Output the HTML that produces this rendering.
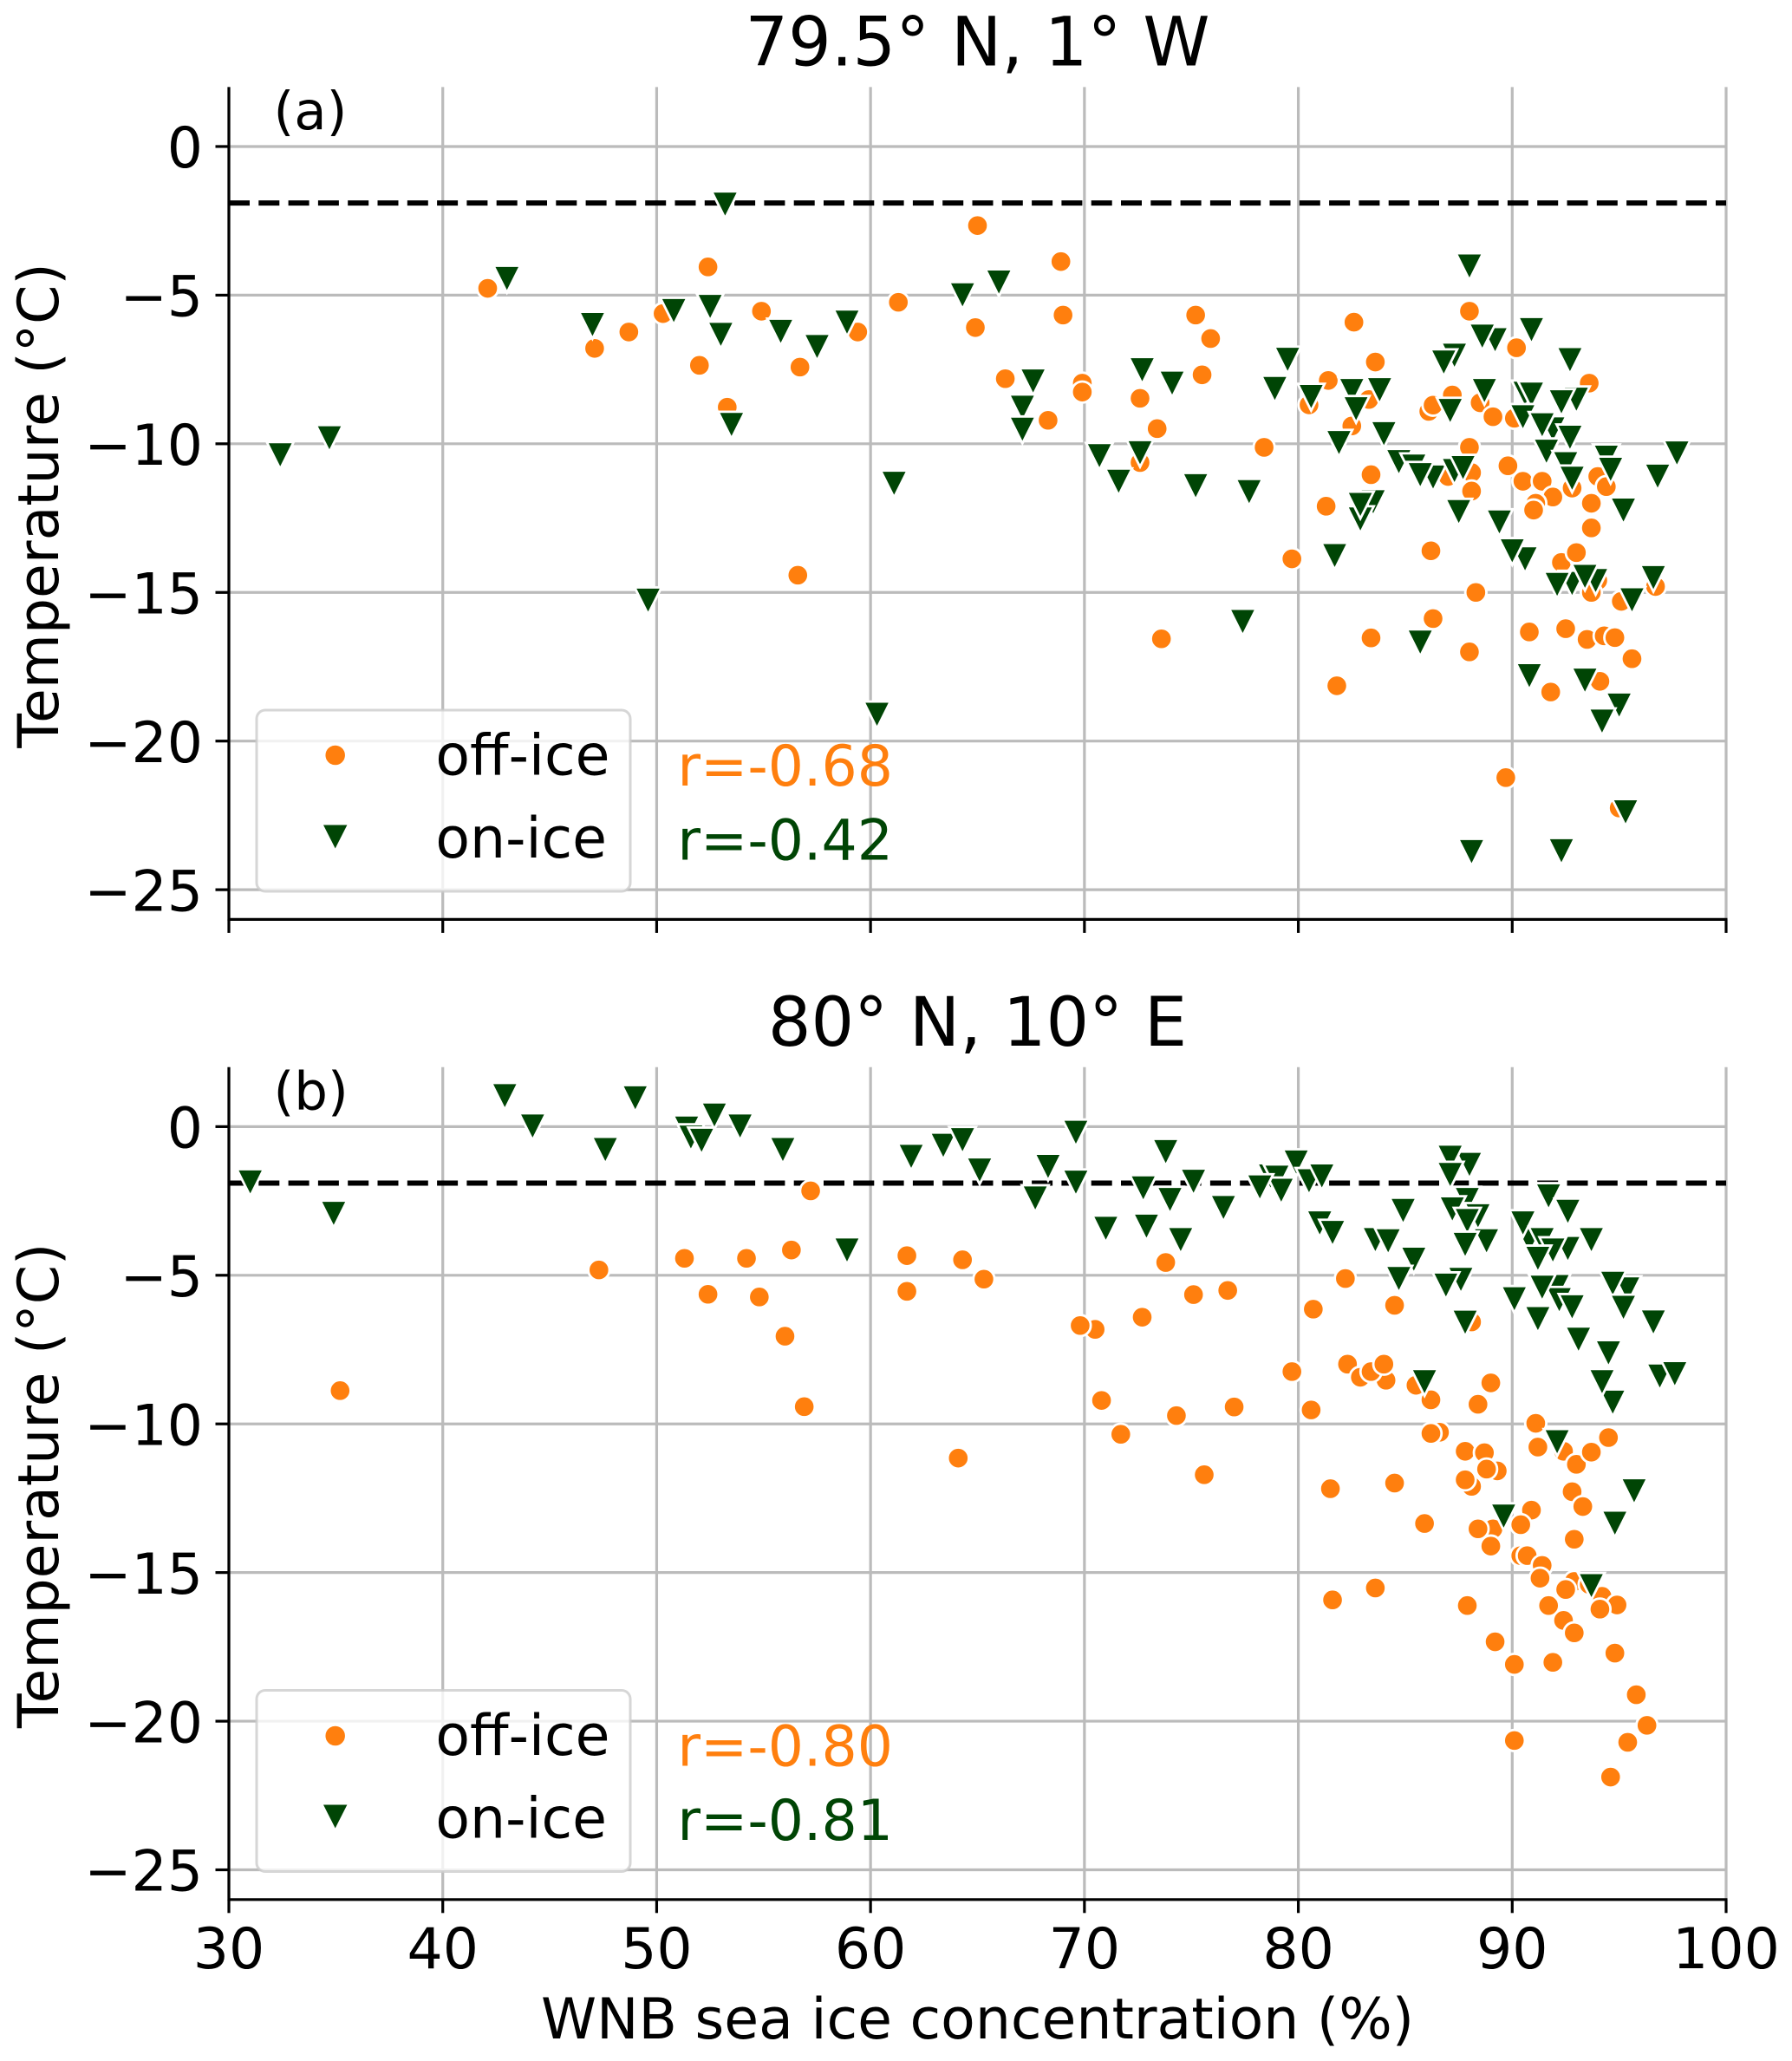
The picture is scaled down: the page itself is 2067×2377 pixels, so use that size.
<!DOCTYPE html>
<html>
<head>
<meta charset="utf-8">
<title>Temperature vs WNB sea ice concentration</title>
<style>
html,body{margin:0;padding:0;background:#fff;}
svg{display:block;}
text{font-family:"DejaVu Sans","Liberation Sans",sans-serif;fill:#000;}
</style>
</head>
<body>
<svg id="chart" xmlns="http://www.w3.org/2000/svg" width="2067" height="2377" viewBox="0 0 2067 2377">
  <rect x="0" y="0" width="2067" height="2377" fill="#fff"/>
  <g id="panel-a"></g>
  <g id="panel-b"></g>

  <text x="1127.5" y="75.5" text-anchor="middle" font-size="78">79.5° N, 1° W</text>
  <text x="1127.5" y="1205.9" text-anchor="middle" font-size="78">80° N, 10° E</text>
  <text x="315.5" y="149" font-size="61">(a)</text>
  <text x="315.5" y="1279.4" font-size="61">(b)</text>
  <text transform="translate(67,583) rotate(-90)" text-anchor="middle" font-size="64.8">Temperature (°C)</text>
  <text transform="translate(67,1713.4) rotate(-90)" text-anchor="middle" font-size="64.8">Temperature (°C)</text>
  <text x="1127.5" y="2351" text-anchor="middle" font-size="64.8">WNB sea ice concentration (%)</text>

  <g>
    <rect x="296" y="819" width="431" height="209" rx="10" ry="10" fill="#fff" fill-opacity="0.8" stroke="#ccc" stroke-opacity="0.8" stroke-width="3"/>
    <circle cx="386.7" cy="871" r="12" fill="#ff7f0e" stroke="#fff" stroke-width="1.5"/>
    <path d="M373 951.5 L400.4 951.5 L386.7 978.5 Z" fill="#004505"/>
    <text x="502.4" y="893.3" font-size="64.8">off-ice</text>
    <text x="502.4" y="989" font-size="64.8">on-ice</text>
  </g>
  <g>
    <rect x="296" y="1949.5" width="431" height="209" rx="10" ry="10" fill="#fff" fill-opacity="0.8" stroke="#ccc" stroke-opacity="0.8" stroke-width="3"/>
    <circle cx="386.7" cy="2002" r="12" fill="#ff7f0e" stroke="#fff" stroke-width="1.5"/>
    <path d="M373 2081.5 L400.4 2081.5 L386.7 2108.5 Z" fill="#004505"/>
    <text x="502.4" y="2023.8" font-size="64.8">off-ice</text>
    <text x="502.4" y="2119.5" font-size="64.8">on-ice</text>
  </g>

  <text x="781.4" y="906" font-size="64.8" style="fill:#ff7f0e">r=-0.68</text>
  <text x="781.4" y="991.7" font-size="64.8" style="fill:#004505">r=-0.42</text>
  <text x="781.4" y="2036.4" font-size="64.8" style="fill:#ff7f0e">r=-0.80</text>
  <text x="781.4" y="2122.1" font-size="64.8" style="fill:#004505">r=-0.81</text>
</svg>
<script>
const xTickValues = [30, 40, 50, 60, 70, 80, 90, 100];
const yTickValues = [0, -5, -10, -15, -20, -25];
const yTickLabels = ['0', '\u22125', '\u221210', '\u221215', '\u221220', '\u221225'];
const freezingPoint = -1.9;

const offIceAX = [42.1,47.1,48.7,50.3,52.4,52.0,53.3,54.9,56.7,56.6,59.4,61.3,65.0,64.9,66.3,68.9,69.0,75.2,75.9,69.9,69.9,72.6,73.4,75.5,68.3,72.6,78.4,83.4,82.6,83.6,81.4,80.5,83.3,82.5,88.0,90.2,93.6,87.2,86.1,86.3,88.5,89.1,90.1,88.0,89.8,90.5,91.4,88.1,87.0,88.1,91.9,91.1,91.0,92.8,94.0,94.4,93.7,93.7,81.3,79.7,86.2,92.3,93.0,94.0,93.7,96.7,88.3,95.1,86.3,73.6,83.4,88.0,90.8,92.5,93.5,94.3,94.8,95.6,94.1,91.8,81.8,89.7,95.0];
const offIceAY = [-4.77,-6.79,-6.24,-5.62,-4.05,-7.36,-8.77,-5.54,-7.42,-14.42,-6.24,-5.24,-2.66,-6.09,-7.81,-3.87,-5.67,-5.67,-6.46,-7.96,-8.26,-8.47,-9.49,-7.68,-9.21,-10.63,-10.12,-11.04,-5.91,-7.25,-7.87,-8.69,-8.51,-9.4,-5.54,-6.77,-7.96,-8.36,-8.91,-8.7,-8.62,-9.09,-9.14,-10.12,-10.74,-11.26,-11.26,-10.97,-11.1,-11.59,-11.79,-12.0,-12.23,-11.49,-11.1,-11.44,-12.0,-12.83,-12.1,-13.87,-13.6,-13.99,-13.66,-14.6,-15.0,-14.8,-15.0,-15.3,-15.88,-16.56,-16.53,-17.0,-16.33,-16.22,-16.58,-16.46,-16.52,-17.23,-17.99,-18.35,-18.14,-21.23,-22.25];

const onIceAX = [32.4,34.7,43.0,47.0,49.6,50.8,52.5,53.0,53.2,53.5,55.8,57.5,58.9,61.1,60.3,64.3,66.0,67.6,67.1,67.1,88.0,90.9,89.2,88.6,92.7,87.3,86.8,72.7,74.1,79.5,78.9,80.6,82.5,83.8,82.7,88.7,87.1,84.0,81.9,90.6,90.9,93.0,92.3,90.5,91.9,91.4,92.7,91.6,94.4,92.5,94.6,92.8,97.7,96.8,70.7,72.6,71.6,75.2,77.7,84.7,85.4,86.3,85.7,87.3,87.7,87.5,89.4,95.2,83.5,82.9,82.9,81.7,90.6,90.0,92.8,92.1,93.9,93.4,96.6,95.6,77.4,85.7,90.8,93.4,95.0,94.2,95.3,88.1,92.3];
const onIceAY = [-10.37,-9.8,-4.44,-5.99,-15.26,-5.52,-5.38,-6.32,-1.94,-9.35,-6.22,-6.73,-5.91,-11.33,-19.1,-4.99,-4.56,-7.89,-8.77,-9.51,-4.02,-6.16,-6.5,-6.38,-7.17,-7.02,-7.25,-7.51,-7.96,-7.16,-8.14,-8.41,-8.21,-8.18,-8.82,-8.21,-8.88,-9.66,-9.96,-8.3,-8.33,-8.5,-8.59,-9.09,-9.5,-9.36,-9.78,-10.25,-10.45,-10.67,-10.86,-11.16,-10.31,-11.09,-10.4,-10.3,-11.26,-11.41,-11.61,-10.6,-10.75,-11.12,-11.04,-10.9,-10.8,-12.28,-12.63,-12.23,-11.95,-12.53,-12.04,-13.76,-13.87,-13.6,-14.7,-14.73,-14.6,-14.46,-14.5,-15.25,-15.98,-16.67,-17.8,-17.95,-18.79,-19.33,-22.38,-23.72,-23.69];

const offIceBX = [35.2,47.3,51.3,52.4,54.2,54.8,56.3,56.0,56.9,57.2,61.7,61.7,64.3,64.1,65.3,70.5,69.8,72.7,73.8,75.1,76.7,70.8,71.7,74.3,77.0,75.6,79.7,80.6,80.7,82.2,84.5,81.5,84.5,85.9,81.6,83.6,82.3,82.9,84.1,83.4,84.0,85.5,86.2,86.6,86.2,88.1,89.0,88.4,87.8,88.7,89.3,88.8,88.1,87.8,91.1,91.2,92.4,93.0,93.7,94.5,92.8,93.3,92.9,90.9,89.1,88.4,90.4,89.0,90.4,90.7,91.4,91.3,92.9,92.5,93.6,94.2,94.9,94.1,91.7,92.4,92.9,87.9,89.2,90.1,91.9,94.8,95.8,96.3,95.4,90.1,94.6];
const offIceBY = [-8.88,-4.82,-4.43,-5.64,-4.43,-5.73,-4.15,-7.05,-9.42,-2.16,-4.34,-5.54,-4.48,-11.15,-5.13,-6.82,-6.69,-6.41,-4.57,-5.65,-5.51,-9.21,-10.35,-9.72,-9.43,-11.71,-8.24,-9.53,-6.14,-5.11,-6.01,-12.18,-11.99,-13.35,-15.92,-15.52,-7.99,-8.43,-8.53,-8.24,-7.99,-8.7,-9.19,-10.28,-10.32,-6.57,-8.62,-9.34,-10.92,-10.97,-11.58,-11.52,-12.1,-11.88,-9.98,-10.78,-10.92,-11.36,-10.95,-10.46,-12.28,-12.78,-13.88,-12.9,-13.53,-13.53,-13.39,-14.11,-14.43,-14.43,-14.76,-15.19,-15.3,-15.57,-15.4,-15.8,-16.09,-16.23,-16.11,-16.61,-17.03,-16.11,-17.33,-18.09,-18.02,-17.71,-19.11,-20.14,-20.71,-20.65,-21.88];

const onIceBX = [31.0,34.9,42.9,44.2,47.6,49.0,51.4,51.6,52.1,52.7,53.9,55.9,58.9,61.9,63.4,64.3,65.1,67.7,68.3,69.6,69.6,73.8,72.75,74.0,75.1,76.5,71.0,72.9,74.5,78.7,79.0,79.2,78.2,79.9,80.5,81.1,81.0,81.6,84.9,83.6,84.2,85.4,84.7,87.6,86.9,85.9,87.8,88.0,87.1,87.1,87.9,88.4,87.2,87.9,88.8,87.8,91.7,92.6,90.8,90.5,91.4,92.6,91.9,91.2,93.7,92.1,92.2,92.8,91.4,90.1,91.2,93.1,95.4,94.7,95.2,96.6,94.5,94.7,94.2,96.9,97.6,92.1,95.7,94.8,89.6,93.7];
const onIceBY = [-1.86,-2.92,1.04,0.02,-0.77,0.97,-0.05,-0.35,-0.46,0.39,0.02,-0.77,-4.15,-1.0,-0.63,-0.44,-1.46,-2.4,-1.34,-0.19,-1.87,-0.84,-2.06,-2.45,-1.84,-2.72,-3.42,-3.35,-3.8,-1.66,-1.7,-2.14,-2.03,-1.19,-1.82,-1.66,-3.24,-3.56,-2.82,-3.8,-3.84,-4.46,-5.11,-5.14,-5.33,-8.58,-6.58,-1.27,-1.03,-1.61,-2.45,-3.0,-2.77,-3.16,-3.84,-3.96,-2.33,-2.85,-3.8,-3.24,-3.8,-4.1,-4.15,-4.43,-3.8,-5.38,-5.82,-6.06,-5.4,-5.79,-6.46,-7.15,-5.46,-5.27,-6.08,-6.57,-7.61,-9.27,-8.58,-8.39,-8.31,-10.6,-12.25,-13.34,-13.1,-15.44];

const NS = 'http://www.w3.org/2000/svg';
const X_MIN = 30, X_MAX = 100, Y_MIN = -26, Y_MAX = 2;
const AXIS_LEFT = 264, AXIS_RIGHT = 1991, PANEL_HEIGHT = 960;
const MARKER_HALF = 15.5;

function xScale(v) {
  return AXIS_LEFT + (v - X_MIN) / (X_MAX - X_MIN) * (AXIS_RIGHT - AXIS_LEFT);
}
function yScaleFor(top) {
  return function (v) {
    return top + (Y_MAX - v) / (Y_MAX - Y_MIN) * PANEL_HEIGHT;
  };
}
function make(tag, attrs, parent) {
  const el = document.createElementNS(NS, tag);
  for (const k in attrs) el.setAttribute(k, attrs[k]);
  parent.appendChild(el);
  return el;
}

function drawPanel(panelId, top, showXLabels, offX, offY, onX, onY) {
  const root = document.getElementById(panelId);
  const yScale = yScaleFor(top);
  const bottom = top + PANEL_HEIGHT;

  xTickValues.forEach(function (v, i) {
    const grid = make('line', {x1: xScale(v), x2: xScale(v), y1: top, y2: bottom, stroke: '#bbb', 'stroke-width': 3.2}, root);
    
    
    const tick = make('line', {x1: xScale(v), x2: xScale(v), y1: bottom, y2: bottom + 15.5, stroke: '#000', 'stroke-width': 3.2}, root);
    
    
    if (showXLabels) {
      const label = make('text', {x: xScale(v), y: bottom + 79, 'text-anchor': 'middle', 'font-size': 64.8}, root);
      label.textContent = String(xTickValues[i]);
      
      
    }
  });

  yTickValues.forEach(function (v, i) {
    const grid = make('line', {x1: AXIS_LEFT, x2: AXIS_RIGHT, y1: yScale(v), y2: yScale(v), stroke: '#bbb', 'stroke-width': 3.2}, root);
    
    
    const tick = make('line', {x1: AXIS_LEFT - 15.5, x2: AXIS_LEFT, y1: yScale(v), y2: yScale(v), stroke: '#000', 'stroke-width': 3.2}, root);
    
    
    const label = make('text', {x: AXIS_LEFT - 30, y: yScale(v) + 24.2, 'text-anchor': 'end', 'font-size': 64.8}, root);
    label.textContent = yTickLabels[i];
    
    
  });

  const freezing = make('line', {x1: AXIS_LEFT, x2: AXIS_RIGHT, y1: yScale(freezingPoint), y2: yScale(freezingPoint), stroke: '#000', 'stroke-width': 6, 'stroke-dasharray': '24 10.3'}, root);
  
  

  const spineLeft = make('line', {x1: AXIS_LEFT, x2: AXIS_LEFT, y1: top, y2: bottom + 1.5, stroke: '#000', 'stroke-width': 3.2}, root);
  
  
  const spineBottom = make('line', {x1: AXIS_LEFT - 1.5, x2: AXIS_RIGHT + 1.5, y1: bottom, y2: bottom, stroke: '#000', 'stroke-width': 3.2}, root);
  
  

  offX.forEach(function (v, i) {
    const dot = make('circle', {cx: xScale(v), cy: yScale(offY[i]), r: 12.2, fill: '#ff7f0e', stroke: '#fff', 'stroke-width': 2.8}, root);
    
    
  });

  onX.forEach(function (v, i) {
    const cx = xScale(v);
    const cy = yScale(onY[i]) + 0.8;
    const d = 'M' + (cx - MARKER_HALF) + ' ' + (cy - MARKER_HALF) + ' L' + (cx + MARKER_HALF) + ' ' + (cy - MARKER_HALF) + ' L' + cx + ' ' + (cy + MARKER_HALF) + ' Z';
    const tri = make('path', {d: d, fill: '#004505', stroke: '#fff', 'stroke-width': 2.8, 'stroke-linejoin': 'miter'}, root);
    
    
  });
}

drawPanel('panel-a', 100.4, false, offIceAX, offIceAY, onIceAX, onIceAY);
drawPanel('panel-b', 1230.8, true, offIceBX, offIceBY, onIceBX, onIceBY);
</script>
</body>
</html>
